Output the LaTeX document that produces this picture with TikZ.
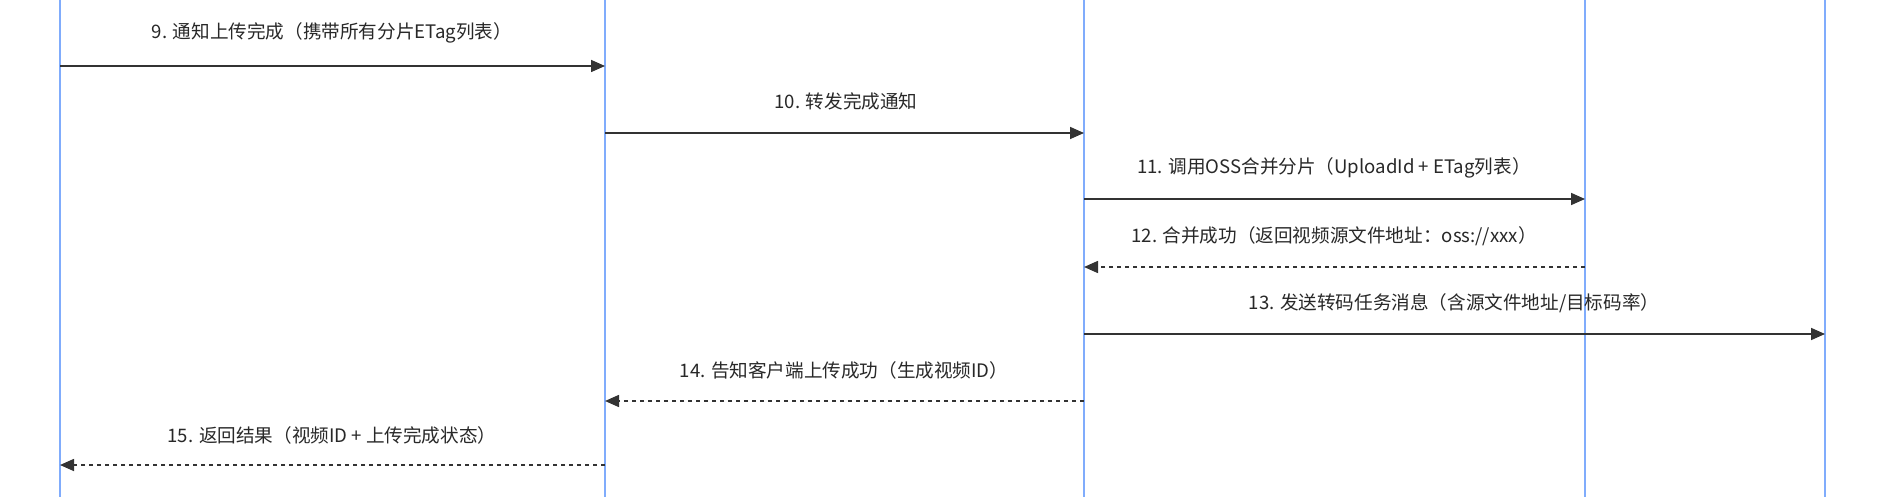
\documentclass[tikz,border=0pt]{standalone}
\usepackage{fontspec}
\setmainfont{Noto Sans CJK SC}
\usetikzlibrary{arrows.meta}
\definecolor{lifeblue}{RGB}{128,172,252}
\definecolor{msgtxt}{RGB}{40,40,40}
\definecolor{msgline}{RGB}{51,51,51}
\tikzset{
  lifeline/.style={draw=lifeblue, line width=2.8pt},
  msg/.style={draw=msgline, line width=1.6pt, -{Triangle[length=14pt,width=12pt]}},
  reply/.style={msg, dash pattern=on 4pt off 4pt},
  lbl/.style={text=msgtxt, font=\fontsize{18.6pt}{21pt}\selectfont, inner sep=0pt, anchor=center}
}
\begin{document}
\begin{tikzpicture}[x=1pt,y=-1pt]
\useasboundingbox[fill=white] (0,0) rectangle (1878,497);
% lifelines
\foreach \n/\x in {A/60,B/605,C/1084,D/1585,E/1825}{
  \coordinate (\n top) at (\x,0);
  \coordinate (\n bot) at (\x,497);
  \draw[lifeline] (\n top) -- (\n bot);
}
% message endpoints
\coordinate (m9s) at (60,66);   \coordinate (m9e) at (605,66);
\coordinate (m10s) at (605,133); \coordinate (m10e) at (1084,133);
\coordinate (m11s) at (1084,199); \coordinate (m11e) at (1585,199);
\coordinate (m12s) at (1585,267); \coordinate (m12e) at (1084,267);
\coordinate (m13s) at (1084,334); \coordinate (m13e) at (1825,334);
\coordinate (m14s) at (1084,401); \coordinate (m14e) at (605,401);
\coordinate (m15s) at (605,465); \coordinate (m15e) at (60,465);
% messages
\draw[msg] (m9s) -- (m9e);
\draw[msg] (m10s) -- (m10e);
\draw[msg] (m11s) -- (m11e);
\draw[reply] (m12s) -- (m12e);
\draw[msg] (m13s) -- (m13e);
\draw[reply] (m14s) -- (m14e);
\draw[reply] (m15s) -- (m15e);
% labels
\node[lbl] (t9) at (332,33) {9. 通知上传完成（携带所有分片ETag列表）};
\node[lbl] (t10) at (846,101) {10. 转发完成通知};
\node[lbl] (t11) at (1334,168) {11. 调用OSS合并分片（UploadId + ETag列表）};
\node[lbl] (t12) at (1334,236) {12. 合并成功（返回视频源文件地址：oss://xxx）};
\node[lbl] (t13) at (1454,303) {13. 发送转码任务消息（含源文件地址/目标码率）};
\node[lbl] (t14) at (844,370) {14. 告知客户端上传成功（生成视频ID）};
\node[lbl] (t15) at (332,435) {15. 返回结果（视频ID + 上传完成状态）};
\end{tikzpicture}
\end{document}
